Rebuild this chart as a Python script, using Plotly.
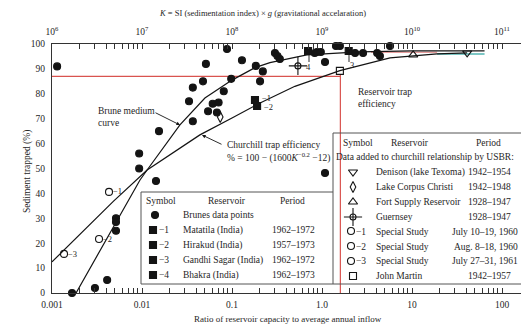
import plotly.graph_objects as go

# ---------------- data ----------------
brune_ratio = [0.00114, 0.00167, 0.003, 0.0041, 0.00514, 0.00514, 0.00514, 0.0093, 0.0093,
               0.0143, 0.01545, 0.0333, 0.0367, 0.0367, 0.0476, 0.0513, 0.0542, 0.061, 0.071,
               0.068, 0.081, 0.088, 0.098, 0.129, 0.184, 0.22, 0.205, 0.30, 0.32, 0.34,
               0.83, 0.88, 0.97, 1.08, 1.43, 1.58, 2.33, 2.86, 4.1, 4.4, 5.7, 1.08]
brune_pct = [91, 0, 2, 5.2, 30, 28.5, 25, 56, 50,
             45, 65, 77, 82.5, 69, 85, 92, 73, 76, 76.5,
             72.5, 81, 98, 86, 93.5, 91.2, 89, 85, 96.4, 95.2, 94,
             96.4, 96.8, 96.8, 92.8, 99.2, 99.2, 96.4, 96.4, 96.4, 95.2, 99.2, 48.2]

india_ratio = [0.18, 0.19, 1.98, 0.70]
india_pct = [77.5, 75.1, 97.2, 97.2]

denison_ratio, denison_pct = [41], [96.4]
corpus_ratio, corpus_pct = [0.074], [70.7]
fort_ratio, fort_pct = [10.3], [95.6]
guernsey_ratio, guernsey_pct = [0.54], [91.2]
special_ratio = [0.0043, 0.00333, 0.00136]
special_pct = [40.6, 21.7, 15.7]
martin_ratio, martin_pct = [1.58], [89.2]

brune_curve_ratio = [0.00185, 0.0095, 0.0114, 0.0264, 0.05, 0.1, 0.18, 0.264, 0.68, 2.6, 10, 64]
brune_curve_pct = [0, 45.4, 49.4, 67.5, 78.3, 85.5, 90.5, 92.5, 95.6, 96.8, 97.2, 97.2]

churchill_ratio = [0.001, 0.0048, 0.0114, 0.044, 0.1, 0.205, 0.5, 1.58, 5.7, 19, 41]
churchill_pct = [12.5, 36.8, 49.4, 63.5, 70.3, 76.3, 83, 89.3, 94.4, 96, 96.4]

teal_ratio, teal_pct = [19, 64], [96, 96]
redtop_ratio, redtop_pct = [3.5, 19], [96.7, 96.7]

red_h_ratio, red_h_pct = [0.001, 1.6], [87, 87]
red_v_ratio, red_v_pct = [1.6, 1.6], [88, 0]

x_ticks = [0.001, 0.01, 0.1, 1, 10, 100]
x_tick_labels = ["0.001", "0.01", "0.1", "1.0", "10", "100"]
k_ticks = [1e6, 1e7, 1e8, 1e9, 1e10, 1e11]
k_tick_labels = ["10<sup>6</sup>", "10<sup>7</sup>", "10<sup>8</sup>", "10<sup>9</sup>",
                 "10<sup>10</sup>", "10<sup>11</sup>"]
y_ticks = [0, 10, 20, 30, 40, 50, 60, 70, 80, 90, 100]

legend1_names = ["Brunes data points", "Matatila (India)", "Hirakud (India)",
                 "Gandhi Sagar (India)", "Bhakra (India)"]
legend1_periods = ["", "1962–1972", "1957–1973", "1962–1972", "1962–1973"]
legend2_names = ["Denison (lake Texoma)", "Lake Corpus Christi", "Fort Supply Reservoir",
                 "Guernsey", "Special Study", "Special Study", "Special Study", "John Martin"]
legend2_periods = ["1942–1954", "1942–1948", "1928–1947", "1928–1947",
                   "July 10–19, 1960", "Aug. 8–18, 1960", "July 27–31, 1961", "1942–1957"]

# ---------------- geometry helpers ----------------
# positions below are in screen pixels of the 529x327 window; the page body
# adds an 8px margin, so the figure itself is 8px smaller in each direction.
OFF = 8
W, H = 529, 327
L, R, T, B = 52, 529, 44, 293
DEC = 90.0
XMAX = -3 + (R - L) / DEC


def xp(px):
    return (px - L) / (R - L)


def yp(py):
    return (B - py) / (B - T)


def pr(px):  # pixel -> ratio (for legend symbols)
    return 10 ** ((px - L) / DEC - 3)


def pp(py):  # pixel -> percent
    return (B - py) / (B - T) * 100


SERIF = "Liberation Serif"
TXT = "#262626"
INK = "#141414"

fig = go.Figure()


def line(xs, ys, color=INK, width=1.2):
    fig.add_trace(go.Scatter(x=xs, y=ys, mode="lines", line=dict(color=color, width=width),
                             hoverinfo="skip", showlegend=False, cliponaxis=False))


def marks(xs, ys, symbol, size=7, color=INK, lw=1.1):
    fig.add_trace(go.Scatter(x=xs, y=ys, mode="markers",
                             marker=dict(symbol=symbol, size=size, color=color,
                                         line=dict(color=color, width=lw)),
                             hoverinfo="skip", showlegend=False, cliponaxis=False))


# reference lines
line(red_h_ratio, red_h_pct, "#d9534f", 1.2)
line(red_v_ratio, red_v_pct, "#d9534f", 1.2)
line(redtop_ratio, redtop_pct, "#e07a7a", 1.0)
line(teal_ratio, teal_pct, "#4fb3b0", 1.4)

# curves
line(brune_curve_ratio, brune_curve_pct)
line(churchill_ratio, churchill_pct)

# data marks
marks(brune_ratio, brune_pct, "circle", 7)
marks(india_ratio, india_pct, "square", 7)
marks(denison_ratio, denison_pct, "triangle-down-open", 8)
marks(corpus_ratio, corpus_pct, "diamond-tall-open", 8)
marks(fort_ratio, fort_pct, "triangle-up-open", 8)
marks(guernsey_ratio, guernsey_pct, "circle-open", 6)
marks(guernsey_ratio, guernsey_pct, "cross-thin-open", 13)
marks(special_ratio, special_pct, "circle-open", 7)
marks(martin_ratio, martin_pct, "square-open", 7)

# legend symbols (placed by pixel)
marks([pr(155)], [pp(215)], "circle", 7)
marks([pr(153)] * 4, [pp(230), pp(245), pp(260), pp(275)], "square", 7)
marks([pr(353)], [pp(172)], "triangle-down-open", 8)
marks([pr(353)], [pp(187)], "diamond-tall-open", 8)
marks([pr(353)], [pp(202)], "triangle-up-open", 8)
marks([pr(353)], [pp(217)], "circle-open", 6)
marks([pr(353)], [pp(217)], "cross-thin-open", 13)
marks([pr(351)] * 3, [pp(231), pp(246), pp(261)], "circle-open", 7)
marks([pr(353)], [pp(276)], "square-open", 7)

# helper traces to activate secondary axes
fig.add_trace(go.Scatter(x=[1e6], y=[-50], xaxis="x2", mode="markers",
                         marker=dict(opacity=0), hoverinfo="skip", showlegend=False))
fig.add_trace(go.Scatter(x=[0.01], y=[-50], yaxis="y2", mode="markers",
                         marker=dict(opacity=0), hoverinfo="skip", showlegend=False))

annotations = []


def txt(px, py, s, size=9.5, xanchor="left", angle=0):
    annotations.append(dict(x=xp(px), y=yp(py), xref="paper", yref="paper", text=s,
                            showarrow=False, xanchor=xanchor, yanchor="middle",
                            textangle=angle, borderpad=0,
                            font=dict(family=SERIF, size=size, color=TXT)))


# titles
txt(262, 13, "<i>K</i> = SI (sedimentation index) × <i>g</i> (gravitational accelaration)",
    8.5, "center")
txt(288, 319, "Ratio of reservoir capacity to average annual inflow", 9, "center")
txt(27, 172, "Sediment trapped (%)", 9.5, "center", -90)

# curve labels
txt(97, 111, "Brune medium", 9.5)
txt(97, 123, "curve", 9.5)
txt(226, 145, "Churchill trap efficiency", 9.5)
txt(226, 157, "% = 100 − (1600<i>K</i><sup>−0.2</sup> −12)", 9.5)
txt(357, 92, "Reservoir trap", 9.5)
txt(357, 104, "efficiency", 9.5)

for hx, hy, tx, ty in [(180, 125, 154, 112), (202, 135, 223, 145)]:
    annotations.append(dict(x=xp(hx), y=yp(hy), xref="paper", yref="paper", text="",
                            showarrow=True, ax=tx - hx, ay=ty - hy, axref="pixel",
                            ayref="pixel", arrowhead=2, arrowsize=0.8, arrowwidth=0.9,
                            arrowcolor=INK))

# point labels
txt(112, 191, "−1", 8.5)
txt(102, 239, "−2", 8.5)
txt(67, 254, "−3", 8.5)
txt(261, 98, "−1", 8.5)
txt(263, 107, "−2", 8.5)
txt(305, 67, "4", 8.5)
txt(349, 65, "3", 8.5)

# legend 1
txt(161, 201, "Symbol", 9.5, "center")
txt(227, 201, "Reservoir", 9.5, "center")
txt(292, 201, "Period", 9.5, "center")
for i, name in enumerate(legend1_names):
    y = 215 + 15 * i
    txt(182, y, name, 9.5)
    if legend1_periods[i]:
        txt(293, y, legend1_periods[i], 9.5, "center")
        txt(158, y, "−%d" % i, 9.5)

# legend 2
txt(358, 143, "Symbol", 9.5, "center")
txt(410, 143, "Reservoir", 9.5, "center")
txt(488, 143, "Period", 9.5, "center")
txt(425, 157, "Data added to churchill relationship by USBR:", 9.5, "center")
for i, name in enumerate(legend2_names):
    y = 172 + 14.9 * i
    txt(375, y, name, 9.5)
    if 4 <= i <= 6:
        txt(519, y, legend2_periods[i], 9.5, "right")
        txt(355, y, "−%d" % (i - 3), 9.5)
    else:
        txt(489, y, legend2_periods[i], 9.5, "center")

shapes = []


def seg(x0, y0, x1, y1, color="#555", width=1):
    shapes.append(dict(type="line", xref="paper", yref="paper", x0=xp(x0), y0=yp(y0),
                       x1=xp(x1), y1=yp(y1), line=dict(color=color, width=width)))


# legend frames
seg(141, 192, 333, 192)
seg(141, 192, 141, 284)
seg(141, 284, 522, 284)
seg(333, 133, 333, 284)
seg(333, 133, 522, 133)
seg(522, 133, 522, 284)
# small pointer ticks
seg(309, 55, 309, 62, INK, 0.9)
seg(349, 55, 349, 62, INK, 0.9)

minor_ratio = [d * 10 ** e for e in range(-3, 3) for d in range(2, 10)]
minor_k = [d * 10 ** e for e in range(6, 12) for d in range(2, 10)]

tickfont = dict(family=SERIF, size=9.5, color=TXT)

fig.update_layout(
    width=W - OFF, height=H - OFF,
    margin=dict(l=L - OFF, r=W - R, t=T - OFF, b=H - B, pad=0, autoexpand=False),
    paper_bgcolor="white", plot_bgcolor="white",
    showlegend=False,
    xaxis=dict(type="log", range=[-3, XMAX], tickmode="array", tickvals=x_ticks,
               ticktext=x_tick_labels, ticks="inside", ticklen=5, tickcolor="#333",
               showline=True, linecolor="#333", linewidth=1, showgrid=False, zeroline=False,
               tickfont=tickfont, ticklabelstandoff=3, automargin=False,
               minor=dict(tickmode="array", tickvals=minor_ratio, ticks="inside", ticklen=5,
                          tickcolor="#333", showgrid=False)),
    xaxis2=dict(type="log", range=[6, 6 + (R - L) / DEC], overlaying="x", side="top",
                anchor="y", tickmode="array", tickvals=k_ticks, ticktext=k_tick_labels,
                ticks="inside", ticklen=5, tickcolor="#333", showline=True, linecolor="#333",
                linewidth=1, showgrid=False, zeroline=False, tickfont=tickfont,
                ticklabelstandoff=4, automargin=False,
                minor=dict(tickmode="array", tickvals=minor_k, ticks="inside", ticklen=5,
                           tickcolor="#333", showgrid=False)),
    yaxis=dict(range=[0, 100], tickmode="array", tickvals=y_ticks, ticks="",
               showline=True, linecolor="#333", linewidth=1, showgrid=False, zeroline=False,
               tickfont=tickfont, ticklabelstandoff=4, automargin=False),
    yaxis2=dict(range=[0, 100], overlaying="y", side="right", anchor="x", tickmode="array",
                tickvals=y_ticks, ticks="inside", ticklen=5, tickcolor="#555",
                showticklabels=False, showline=False, showgrid=False, zeroline=False,
                automargin=False),
    annotations=annotations,
    shapes=shapes,
)

fig.write_html("out.html")
